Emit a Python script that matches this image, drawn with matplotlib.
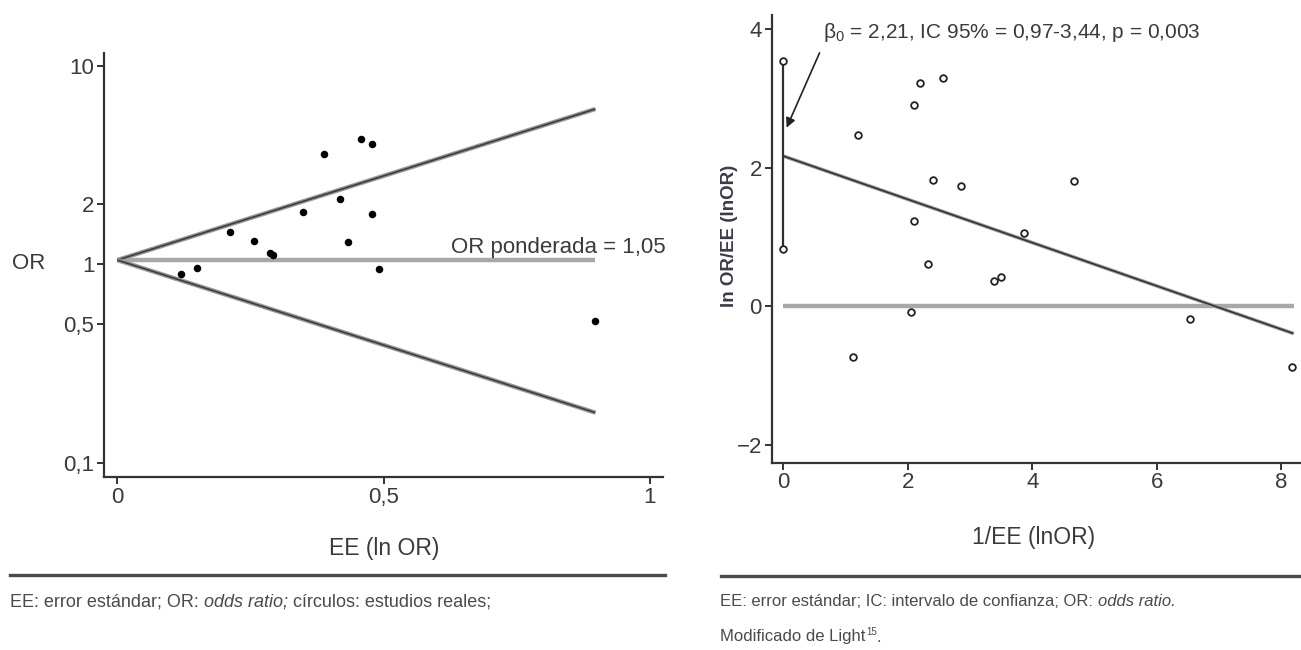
import matplotlib
matplotlib.use("Agg")
import matplotlib.pyplot as plt
from matplotlib.ticker import FixedLocator, FixedFormatter, NullLocator

plt.rcParams['font.family'] = ['Liberation Sans', 'DejaVu Sans']

# ---------------- data: left panel (funnel plot) ----------------
ee = [0.120, 0.150, 0.212, 0.257, 0.286, 0.293, 0.348, 0.389, 0.418, 0.434,
      0.457, 0.479, 0.479, 0.491, 0.897]
or_vals = [0.89, 0.96, 1.46, 1.31, 1.14, 1.11, 1.84, 3.59, 2.12, 1.29,
           4.29, 4.03, 1.80, 0.95, 0.52]
funnel_ee = [0.0, 0.898]
funnel_upper = [1.05, 6.05]
funnel_lower = [1.05, 0.179]
pooled_ee = [0.0, 0.898]
pooled_or = [1.05, 1.05]
left_yticks = [0.1, 0.5, 1, 2, 10]
left_yticklabels = ['0,1', '0,5', '1', '2', '10']
left_xticks = [0, 0.5, 1]
left_xticklabels = ['0', '0,5', '1']

# ---------------- data: right panel (Galbraith / Egger) ----------------
inv_ee = [1.11, 1.19, 2.05, 2.10, 2.10, 2.20, 2.33, 2.41, 2.57, 2.86,
          3.38, 3.49, 3.87, 4.67, 6.53, 8.17]
z_vals = [-0.73, 2.47, -0.075, 2.91, 1.23, 3.23, 0.61, 1.82, 3.29, 1.74,
          0.37, 0.42, 1.06, 1.81, -0.18, -0.88]
ci_x = [0, 0]
ci_y = [0.83, 3.54]
reg_x = [0, 8.2]
reg_y = [2.17, -0.39]
zero_x = [0, 8.2]
zero_y = [0, 0]
right_xticks = [0, 2, 4, 6, 8]
right_xticklabels = ['0', '2', '4', '6', '8']
right_yticks = [-2, 0, 2, 4]
right_yticklabels = ['\u22122', '0', '2', '4']

W, H = 1301, 650
fig = plt.figure(figsize=(W / 100, H / 100), dpi=100)
DARK = '#333333'
TXT = '#3a3a3a'
TICKFS = 16


def px_axes(x0, x1, ytop, ybot):
    return fig.add_axes([x0 / W, 1 - ybot / H, (x1 - x0) / W, (ybot - ytop) / H])


def style(ax):
    for s in ('top', 'right'):
        ax.spines[s].set_visible(False)
    for s in ('left', 'bottom'):
        ax.spines[s].set_linewidth(1.6)
        ax.spines[s].set_color(DARK)
    ax.tick_params(length=5, width=1.4, color=DARK, labelcolor=TXT,
                   labelsize=TICKFS, pad=2)
    ax.patch.set_alpha(0)


# ---------------- left panel ----------------
axL = px_axes(104, 663, 53, 477)
style(axL)
axL.set_yscale('log')
axL.set_xlim(-0.025, 1.025)
axL.set_ylim(0.0849, 11.58)
axL.yaxis.set_major_locator(FixedLocator(left_yticks))
axL.yaxis.set_major_formatter(FixedFormatter(left_yticklabels))
axL.yaxis.set_minor_locator(NullLocator())
axL.set_xticks(left_xticks)
axL.set_xticklabels(left_xticklabels)

axL.plot(pooled_ee, pooled_or, color='#a8a8a8', lw=3.2, solid_capstyle='butt')
for yv in (funnel_upper, funnel_lower):
    axL.plot(funnel_ee, yv, color='#9a9a9a', lw=3.2, solid_capstyle='butt')
    axL.plot(funnel_ee, yv, color='#3c3c3c', lw=1.2, solid_capstyle='butt')
axL.plot(ee, or_vals, 'o', color='black', ms=4.4, zorder=5)
axL.text(0.627, 1.07, 'OR ponderada = 1,05', fontsize=16, color=TXT,
         ha='left', va='bottom', clip_on=False)

fig.text(29 / W, 1 - 264 / H, 'OR', fontsize=16, color=TXT, ha='center', va='center')
fig.text(384 / W, 1 - 548 / H, 'EE (ln OR)', fontsize=16.5, color=TXT, ha='center', va='center')

# ---------------- right panel ----------------
axR = px_axes(771.6, 1301, 15, 462.7)
style(axR)
axR.set_xlim(-0.191, 8.32)
axR.set_ylim(-2.254, 4.206)
axR.set_xticks(right_xticks)
axR.set_xticklabels(right_xticklabels)
axR.set_yticks(right_yticks)
axR.set_yticklabels(right_yticklabels)

axR.plot(zero_x, zero_y, color='#a8a8a8', lw=3.2, solid_capstyle='butt')
axR.plot(reg_x, reg_y, color='#9a9a9a', lw=2.6, solid_capstyle='butt')
axR.plot(reg_x, reg_y, color='#303030', lw=1.1, solid_capstyle='butt')
axR.plot(ci_x, ci_y, color='#303030', lw=1.6, solid_capstyle='butt')
axR.plot(ci_x, ci_y, 'o', ms=4.8, mfc='white', mec='#222222', mew=1.3, zorder=5)
axR.plot(inv_ee, z_vals, 'o', ms=4.8, mfc='white', mec='#222222', mew=1.3, zorder=5)

axR.annotate('', xy=(0.05, 2.58), xytext=(0.58, 3.66),
             arrowprops=dict(arrowstyle='-|>', color='#222222', lw=1.2,
                             mutation_scale=14, shrinkA=0, shrinkB=0))
axR.text(0.63, 3.95, r'$\mathregular{\beta_0}$ = 2,21, IC 95% = 0,97-3,44, p = 0,003',
         fontsize=15, color=TXT, ha='left', va='center')

fig.text(729.5 / W, 1 - 236 / H, 'ln OR/EE (lnOR)', fontsize=13.5, color='#3a3a4a',
         weight='bold', rotation=90, ha='center', va='center')
fig.text(1034 / W, 1 - 537.5 / H, '1/EE (lnOR)', fontsize=16.5, color=TXT,
         ha='center', va='center')

# ---------------- separators and footnotes ----------------
fig.add_artist(plt.Line2D([10 / W, 665 / W], [1 - 575 / H] * 2, color='#4a4a4a', lw=2.4))
fig.add_artist(plt.Line2D([720.5 / W, 1.0], [1 - 575.7 / H] * 2, color='#4a4a4a', lw=2.4))

FNC = '#4a4a4a'


def chain(x, y, parts, fs):
    last = None
    for txt, st in parts:
        kw = dict(fontsize=fs, color=FNC, style=st)
        if last is None:
            last = fig.text(x / W, 1 - y / H, txt, ha='left', va='center', **kw)
        else:
            last = axL.annotate(txt, xy=(1, 0), xycoords=last, ha='left', va='bottom',
                                annotation_clip=False, **kw)
    return last


chain(10, 602, [('EE: error estándar; OR: ', 'normal'),
                ('odds ratio;', 'italic'),
                (' círculos: estudios reales;', 'normal')], 13)
chain(720.5, 602, [('EE: error estándar; IC: intervalo de confianza; OR: ', 'normal'),
                   ('odds ratio.', 'italic')], 12)
t = chain(720.5, 637, [('Modificado de Light', 'normal')], 12)
sup = axL.annotate('15', xy=(1, 0.5), xycoords=t, ha='left', va='bottom',
                   fontsize=7, color=FNC, annotation_clip=False)
axL.annotate('.', xy=(1, 0), xycoords=t, xytext=(7.5, 0), textcoords='offset points',
             ha='left', va='bottom', fontsize=12, color=FNC, annotation_clip=False)

fig.savefig('out.png', dpi=100)
